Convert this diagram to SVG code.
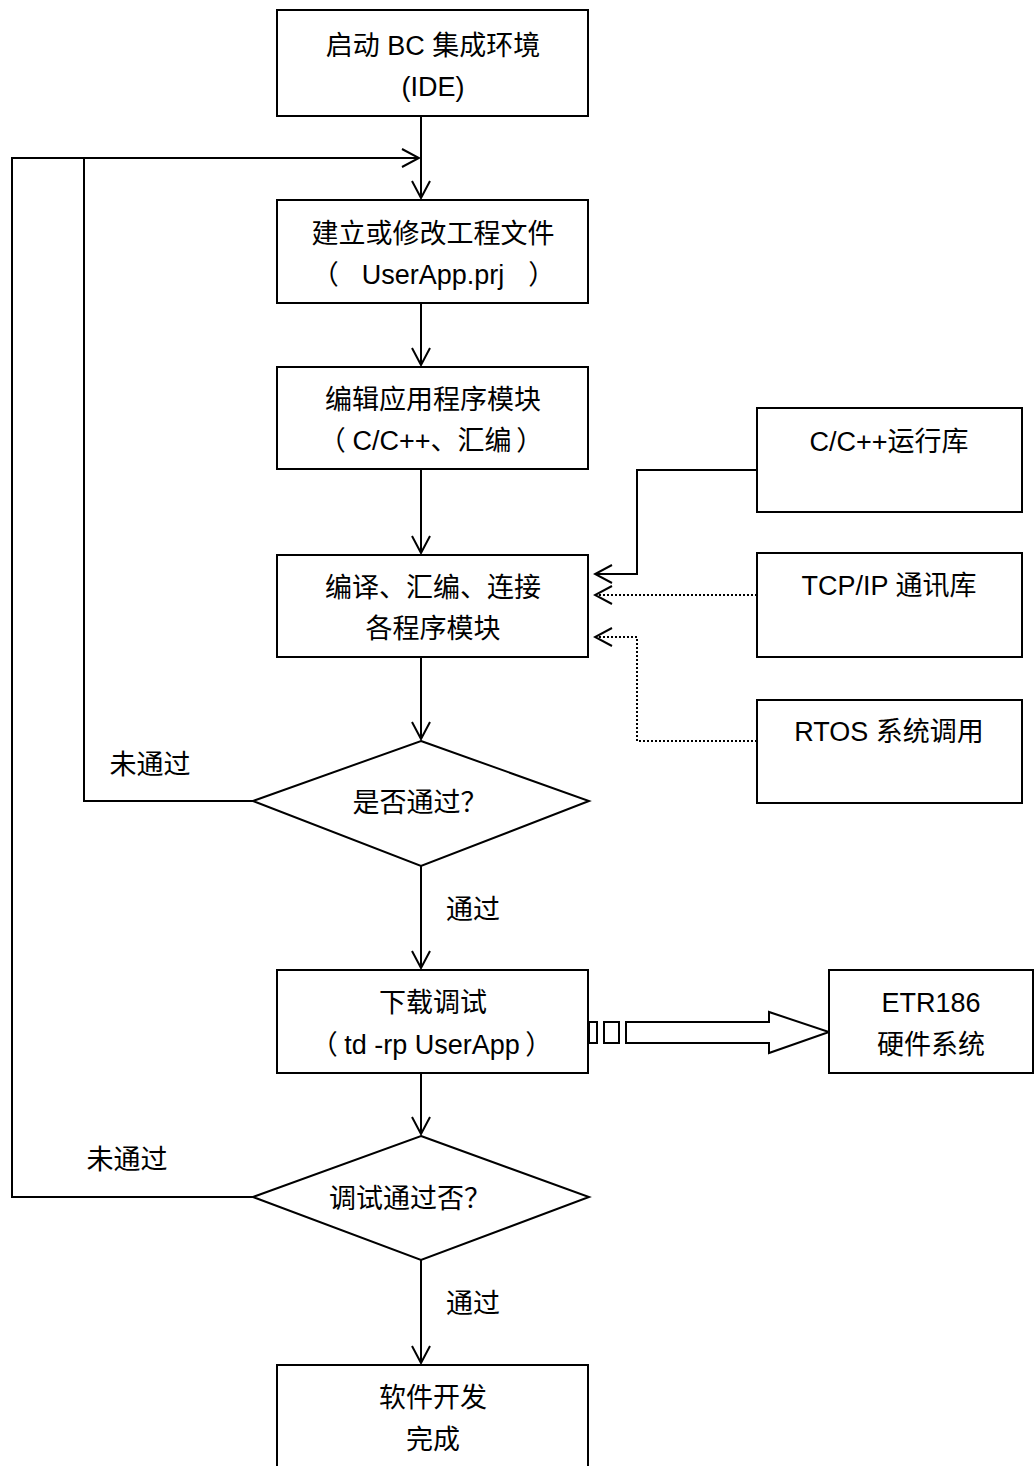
<svg xmlns="http://www.w3.org/2000/svg" width="1035" height="1466" viewBox="0 0 1035 1466">
<style>
.b{fill:#fff;stroke:#000;stroke-width:2}
.t{font-family:"Liberation Sans","Noto Sans CJK SC",sans-serif;font-size:27px;fill:#000;text-anchor:middle}
.p{font-family:"Noto Sans CJK SC",sans-serif;font-size:27px;fill:#000;text-anchor:middle;font-feature-settings:"palt" 1}
.l{fill:none;stroke:#000;stroke-width:2}
.d{fill:none;stroke:#000;stroke-width:2;stroke-dasharray:2 2}
</style>
<defs>
<marker id="a" viewBox="0 0 20 20" refX="18" refY="10" markerWidth="20" markerHeight="20" markerUnits="userSpaceOnUse" orient="auto"><path d="M1,1 L18,10 L1,19" fill="none" stroke="#000" stroke-width="2"/></marker>
</defs>
<g id="connectors">
<line class="l" x1="421" y1="116" x2="421" y2="198" marker-end="url(#a)"/>
<polyline class="l" points="253,801 84,801 84,158"/>
<polyline class="l" points="253,1197 12,1197 12,158 419,158" marker-end="url(#a)"/>
<line class="l" x1="421" y1="303" x2="421" y2="365" marker-end="url(#a)"/>
<line class="l" x1="421" y1="469" x2="421" y2="553" marker-end="url(#a)"/>
<line class="l" x1="421" y1="657" x2="421" y2="739" marker-end="url(#a)"/>
<line class="l" x1="421" y1="866" x2="421" y2="968" marker-end="url(#a)"/>
<line class="l" x1="421" y1="1073" x2="421" y2="1134" marker-end="url(#a)"/>
<line class="l" x1="421" y1="1260" x2="421" y2="1363" marker-end="url(#a)"/>
<polyline class="l" points="757,470 637,470 637,574 595,574" marker-end="url(#a)"/>
<line class="d" x1="757" y1="595" x2="595" y2="595" marker-end="url(#a)"/>
<polyline class="d" points="757,741 637,741 637,637 595,637" marker-end="url(#a)"/>
<rect class="b" x="589" y="1022" width="8" height="21"/>
<rect class="b" x="604" y="1022" width="15" height="21"/>
<path class="b" d="M626,1022 H769 V1012 L829,1032 L769,1053 V1043 H626 Z"/>
<text class="t" x="150" y="774">未通过</text>
<text class="t" x="473" y="919">通过</text>
<text class="t" x="127" y="1169">未通过</text>
<text class="t" x="473" y="1313">通过</text>
</g>
<g id="n1"><rect class="b" x="277" y="10" width="311" height="106"/><text class="t" x="433" y="55">启动 BC 集成环境</text><text class="t" x="433" y="96">(IDE)</text></g>
<g id="n2"><rect class="b" x="277" y="200" width="311" height="103"/><text class="t" x="433" y="243">建立或修改工程文件</text><text class="p" x="331" y="284">（</text><text class="t" x="433" y="284">UserApp.prj</text><text class="p" x="536" y="284">）</text></g>
<g id="n3"><rect class="b" x="277" y="367" width="311" height="102"/><text class="t" x="433" y="409">编辑应用程序模块</text><text class="p" x="338" y="450">（</text><text class="t" x="432" y="450">C/C++、汇编</text><text class="p" x="524" y="450">）</text></g>
<g id="n4"><rect class="b" x="277" y="555" width="311" height="102"/><text class="t" x="433" y="597">编译、汇编、连接</text><text class="t" x="433" y="638">各程序模块</text></g>
<g id="d1"><polygon class="b" points="421,741 589,801 421,866 253,801"/><text class="t" x="420" y="812">是否通过？</text></g>
<g id="n5"><rect class="b" x="277" y="970" width="311" height="103"/><text class="t" x="433" y="1012">下载调试</text><text class="p" x="330" y="1054">（</text><text class="t" x="432" y="1054">td -rp UserApp</text><text class="p" x="533" y="1054">）</text></g>
<g id="d2"><polygon class="b" points="421,1136 589,1197 421,1260 253,1197"/><text class="t" x="410" y="1208">调试通过否？</text></g>
<g id="n6"><rect class="b" x="277" y="1365" width="311" height="110"/><text class="t" x="433" y="1407">软件开发</text><text class="t" x="433" y="1449">完成</text></g>
<g id="r1"><rect class="b" x="757" y="408" width="265" height="104"/><text class="t" x="889" y="451">C/C++运行库</text></g>
<g id="r2"><rect class="b" x="757" y="553" width="265" height="104"/><text class="t" x="889" y="595">TCP/IP 通讯库</text></g>
<g id="r3"><rect class="b" x="757" y="700" width="265" height="103"/><text class="t" x="889" y="741">RTOS 系统调用</text></g>
<g id="r4"><rect class="b" x="829" y="970" width="204" height="103"/><text class="t" x="931" y="1012">ETR186</text><text class="t" x="931" y="1054">硬件系统</text></g>
</svg>
